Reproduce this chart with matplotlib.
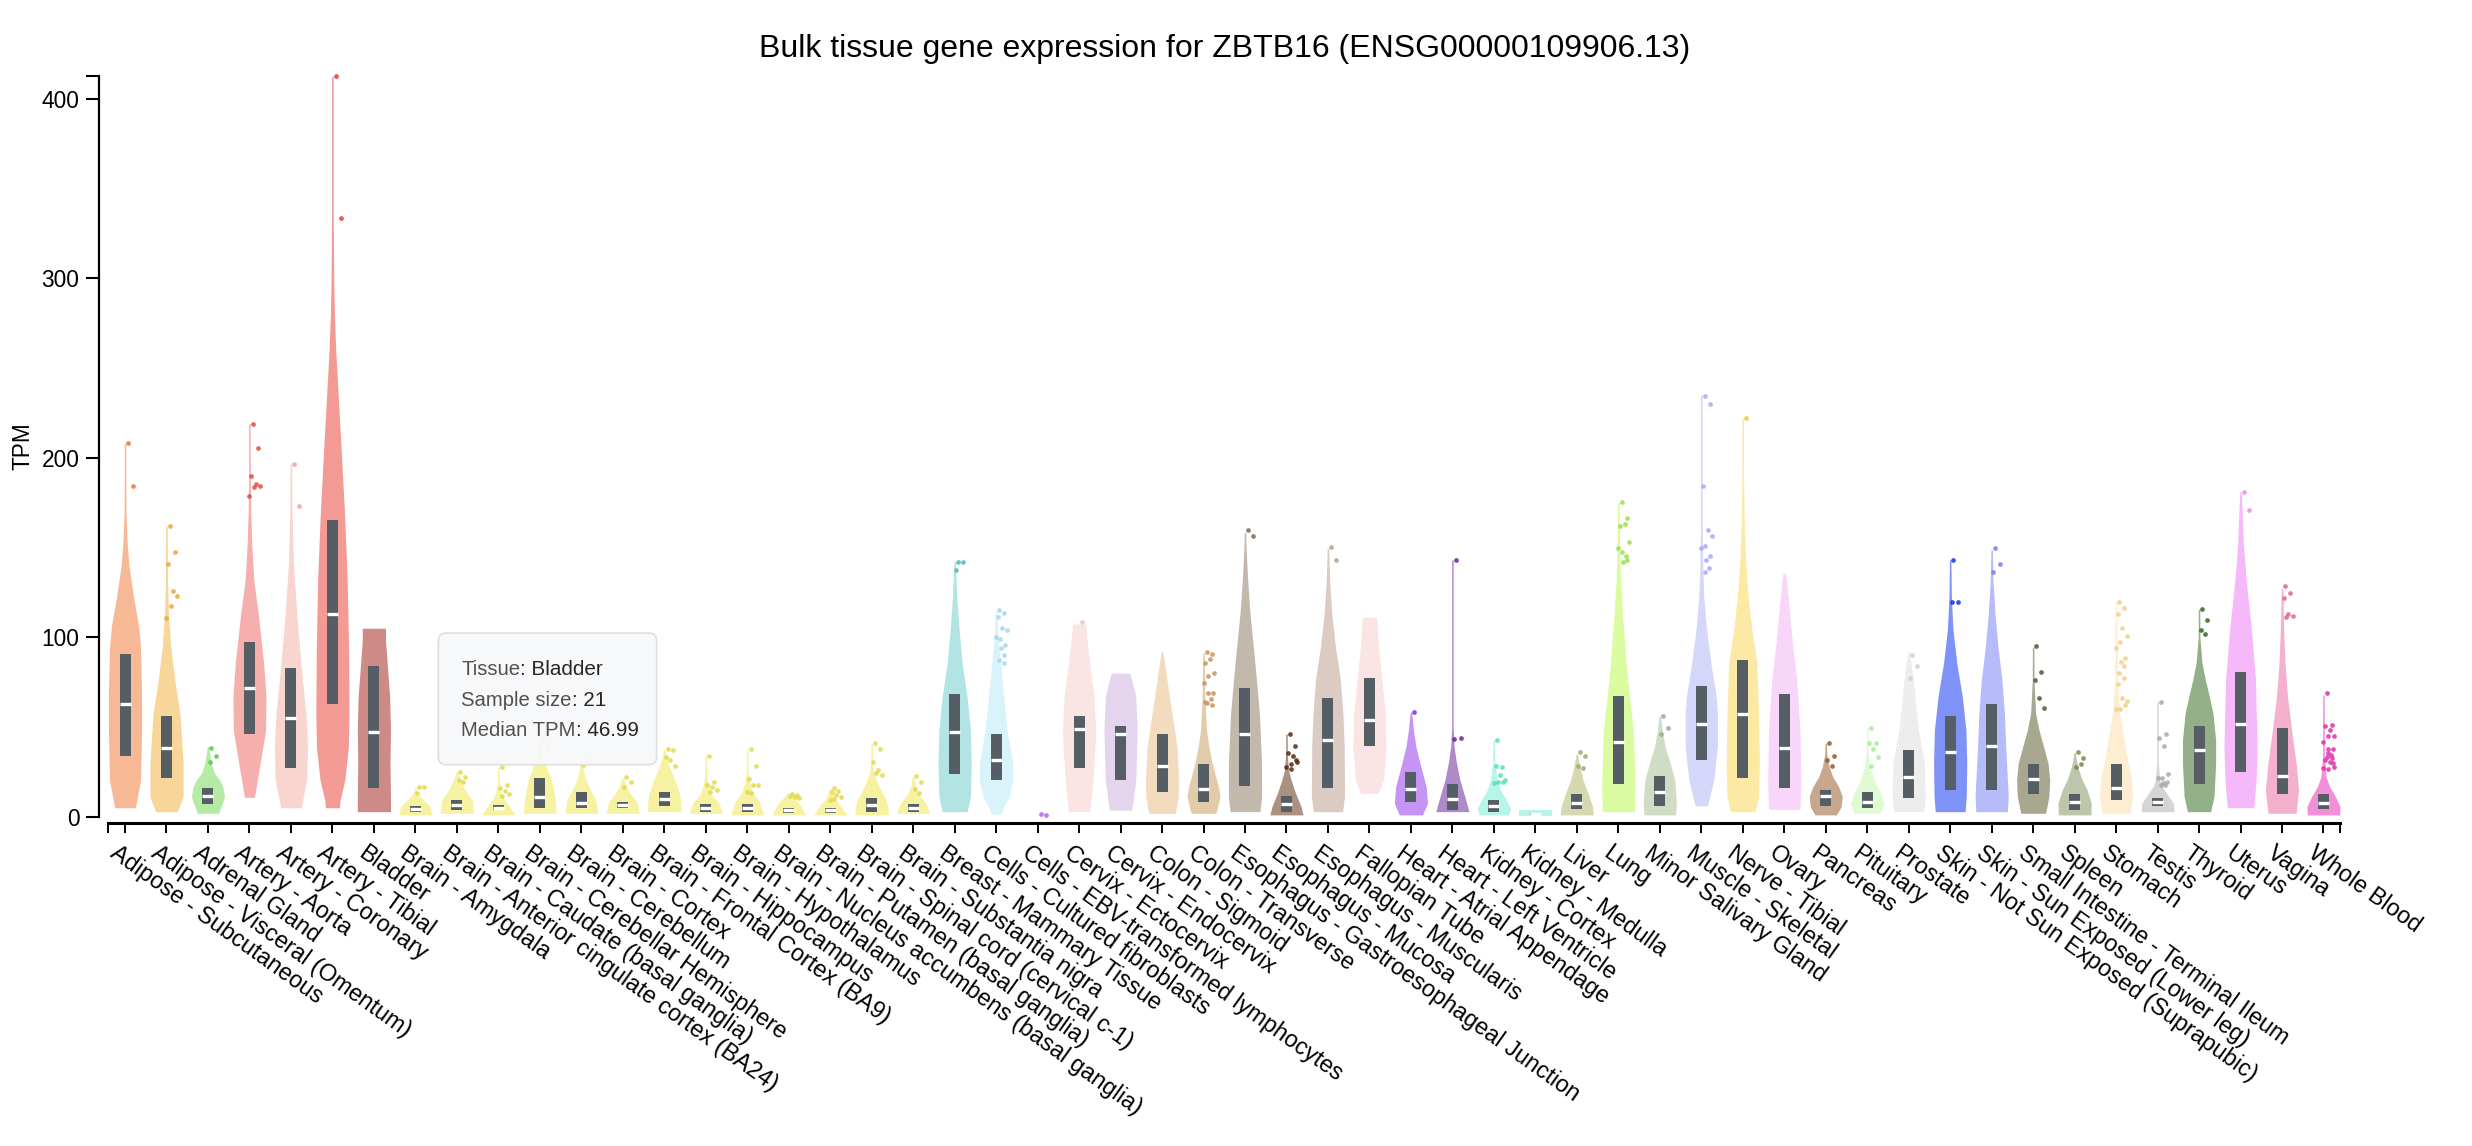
import matplotlib
matplotlib.use("Agg")
import matplotlib.pyplot as plt
import numpy as np
from matplotlib.patches import FancyBboxPatch
from matplotlib.transforms import ScaledTranslation, IdentityTransform

plt.rcParams['font.family'] = ['Liberation Sans', 'DejaVu Sans']

# ---------------- data ----------------
tissues = [
    "Adipose - Subcutaneous", "Adipose - Visceral (Omentum)", "Adrenal Gland",
    "Artery - Aorta", "Artery - Coronary", "Artery - Tibial", "Bladder",
    "Brain - Amygdala", "Brain - Anterior cingulate cortex (BA24)",
    "Brain - Caudate (basal ganglia)", "Brain - Cerebellar Hemisphere",
    "Brain - Cerebellum", "Brain - Cortex", "Brain - Frontal Cortex (BA9)",
    "Brain - Hippocampus", "Brain - Hypothalamus",
    "Brain - Nucleus accumbens (basal ganglia)", "Brain - Putamen (basal ganglia)",
    "Brain - Spinal cord (cervical c-1)", "Brain - Substantia nigra",
    "Breast - Mammary Tissue", "Cells - Cultured fibroblasts",
    "Cells - EBV-transformed lymphocytes", "Cervix - Ectocervix",
    "Cervix - Endocervix", "Colon - Sigmoid", "Colon - Transverse",
    "Esophagus - Gastroesophageal Junction", "Esophagus - Mucosa",
    "Esophagus - Muscularis", "Fallopian Tube", "Heart - Atrial Appendage",
    "Heart - Left Ventricle", "Kidney - Cortex", "Kidney - Medulla", "Liver",
    "Lung", "Minor Salivary Gland", "Muscle - Skeletal", "Nerve - Tibial",
    "Ovary", "Pancreas", "Pituitary", "Prostate",
    "Skin - Not Sun Exposed (Suprapubic)", "Skin - Sun Exposed (Lower leg)",
    "Small Intestine - Terminal Ileum", "Spleen", "Stomach", "Testis",
    "Thyroid", "Uterus", "Vagina", "Whole Blood",
]

violin_colors = [
    '#F6B895', '#F8D598', '#B6EBA6', '#F5B0AE', '#F8D5CE', '#F49A94', '#CD8A86',
    '#F6F2A2', '#F6F2A2', '#F6F2A2', '#F6F2A2', '#F6F2A2', '#F6F2A2', '#F6F2A2',
    '#F6F2A2', '#F6F2A2', '#F6F2A2', '#F6F2A2', '#F6F2A2', '#F6F2A2',
    '#B2E4E3', '#D9F3FB', '#D8A3F2', '#FAE4E4', '#E4D4EE', '#F2DCBD', '#E2CBA9',
    '#C2B8AB', '#A99282', '#DCCBC3', '#FAE4E4', '#C694F5', '#AE8BC8', '#B6F5E9',
    '#B6F5E9', '#D6D8B2', '#DAFB9F', '#D1DCC5', '#D4D6FA', '#FCE9A4', '#F8D6FA',
    '#C8A78F', '#DEFBD2', '#EDEDED', '#7F92F8', '#B6BBFA', '#A8A891', '#BDC5AB',
    '#FDEED2', '#D5D5D5', '#94B088', '#F5B9F9', '#F4B1CD', '#F28FD8',
]

point_colors = [
    '#E8743B', '#EEA534', '#5BC94A', '#E04A4A', '#EDA39C', '#E23B33', '#B05550',
    '#E2DA4E', '#E2DA4E', '#E2DA4E', '#E2DA4E', '#E2DA4E', '#E2DA4E', '#E2DA4E',
    '#E2DA4E', '#E2DA4E', '#E2DA4E', '#E2DA4E', '#E2DA4E', '#E2DA4E',
    '#4FBDBB', '#A8D7EA', '#B266E6', '#F0C4C4', '#C8A8DC', '#E2B880', '#C8965A',
    '#806A55', '#552A10', '#B89C90', '#F0C4C4', '#7A2BE0', '#6A1E9E', '#5BDDBE',
    '#5BDDBE', '#A6A86A', '#9BDE4A', '#9BAA88', '#A8AAF0', '#F8C638', '#EE9CEE',
    '#995528', '#A8EC98', '#D0D0D0', '#1133EE', '#7780F0', '#555535', '#778855',
    '#EED090', '#AAAAAA', '#336625', '#EE88EE', '#DD6699', '#DD33AA',
]

# violin outline: (TPM, relative width) knots, bottom to top
violin_profiles = [
    [(5,0.62),(20,0.93),(48,1.0),(67,1.0),(95,0.93),(106,0.82),(123,0.5),(141,0.22),(154,0.12),(169,0.06),(188,0.03),(208,0.02)],
    [(2.8,0.65),(11,1.0),(30,1.0),(48,0.88),(58,0.8),(76,0.5),(95,0.25),(113,0.12),(132,0.06),(162,0.02)],
    [(1.9,0.65),(11,1.0),(16.7,0.9),(20.5,0.7),(24.2,0.4),(29.7,0.2),(35,0.1),(39,0.04)],
    [(10.8,0.3),(30,0.65),(48,0.97),(67,1.0),(86,0.85),(113,0.53),(132,0.26),(150,0.15),(169,0.08),(188,0.05),(219,0.02)],
    [(5,0.62),(20.5,0.95),(39,1.0),(57.6,0.9),(85.5,0.6),(113,0.35),(141,0.15),(169,0.07),(196.5,0.02)],
    [(5,0.42),(9.3,0.46),(20.5,0.75),(39,0.96),(57.6,1.0),(94.7,0.97),(132,0.89),(169,0.73),(206,0.52),(243,0.3),(260,0.2),(280,0.12),(300,0.08),(333,0.05),(412.5,0.03)],
    [(2.8,1.0),(11,1.0),(30,0.97),(48,1.0),(67,0.95),(85.5,0.8),(98.5,0.7),(105,0.7)],
    [(1.0,1.0),(5.6,0.9),(9.3,0.5),(12.1,0.2),(15,0.05),(16.5,0.02)],
    [(1.9,1.0),(9.3,0.92),(14.9,0.5),(20.5,0.2),(25,0.03)],
    [(1.0,1.0),(6.5,0.6),(10.2,0.3),(14.9,0.12),(20,0.05),(28,0.02)],
    [(1.9,1.0),(11.2,0.9),(20.5,0.7),(29.7,0.3),(36,0.1),(44,0.02)],
    [(1.9,1.0),(9.3,0.87),(14.9,0.55),(20.5,0.27),(26,0.12),(31.6,0.06),(34,0.03)],
    [(1.9,1.0),(8.4,0.85),(13,0.45),(17.7,0.17),(21.4,0.04)],
    [(2.8,1.0),(7.5,1.0),(13,0.92),(20.5,0.63),(27.9,0.3),(33.5,0.12),(37.5,0.03)],
    [(1.9,1.0),(7.5,0.8),(12.1,0.36),(16.7,0.18),(22,0.06),(34.2,0.02)],
    [(1.0,1.0),(8.4,0.72),(13,0.35),(18.6,0.15),(25,0.05),(37.5,0.02)],
    [(1.0,1.0),(6.5,0.7),(10.2,0.35),(13,0.1)],
    [(1.0,1.0),(6.5,0.6),(10.2,0.25),(15.8,0.03)],
    [(1.0,1.0),(3.7,1.0),(9.3,0.88),(14.9,0.55),(20.5,0.27),(26,0.1),(32,0.04),(40.5,0.02)],
    [(1.9,1.0),(7.5,0.77),(12.1,0.37),(16.7,0.15),(22.5,0.03)],
    [(2.8,0.75),(11.2,0.95),(29.7,1.0),(48.3,0.95),(66.9,0.75),(85.5,0.45),(104,0.27),(122.6,0.13),(142,0.03)],
    [(1.5,0.3),(3.7,0.36),(11.2,0.8),(20.5,1.0),(29.7,1.0),(48.3,0.66),(66.9,0.46),(85.5,0.26),(100,0.12),(114,0.04)],
    [(0.7,1.0),(1.2,1.0)],
    [(2.8,0.64),(20.5,0.84),(39,0.96),(48.3,1.0),(66.9,0.9),(85.5,0.64),(98.5,0.48),(107.4,0.4)],
    [(3.7,0.68),(20.5,0.92),(48.3,1.0),(66.9,0.92),(79.9,0.57)],
    [(1.9,0.8),(11.2,0.98),(20.5,1.0),(39,0.9),(57.6,0.6),(76.2,0.3),(85.5,0.16),(92,0.05)],
    [(1.9,0.75),(11.2,1.0),(16.7,0.9),(29.7,0.52),(39,0.32),(48.3,0.18),(66.9,0.08),(91.4,0.03)],
    [(2.8,0.9),(11.2,1.0),(29.7,1.0),(57.6,0.87),(85.5,0.6),(113.3,0.3),(131.9,0.16),(150.5,0.06),(158.3,0.03)],
    [(1.0,1.0),(5.6,0.88),(13,0.55),(20.5,0.28),(26,0.12),(35,0.05),(46.1,0.02)],
    [(2.8,0.88),(11.2,1.0),(39,0.98),(57.6,0.9),(76.2,0.75),(94.7,0.45),(113.3,0.23),(131.9,0.1),(149.5,0.03)],
    [(13,0.53),(20.5,0.85),(39,1.0),(57.6,0.95),(76.2,0.75),(94.7,0.55),(111.1,0.43)],
    [(1.0,0.7),(7.5,1.0),(16.7,0.92),(29.7,0.55),(39,0.3),(48.3,0.15),(58.2,0.03)],
    [(2.8,1.0),(11.2,0.75),(20.5,0.45),(29.7,0.25),(39,0.1),(50,0.03),(143,0.02)],
    [(1.0,0.9),(4.7,1.0),(9.3,0.75),(14.9,0.4),(20.5,0.2),(29.7,0.07),(42.7,0.02)],
    [(0.4,1.0),(3.8,1.0)],
    [(1.0,1.0),(5.6,0.95),(13,0.68),(20.5,0.37),(27.9,0.18),(34.9,0.04)],
    [(2.8,0.98),(20.5,1.0),(48.3,0.9),(66.9,0.67),(85.5,0.47),(113.3,0.25),(131.9,0.13),(150.5,0.08),(175,0.03)],
    [(1.0,0.95),(7.5,1.0),(20.5,0.9),(29.7,0.63),(39,0.32),(48.3,0.14),(56.1,0.03)],
    [(6.0,0.37),(20.5,0.75),(39,0.97),(57.6,0.97),(66.9,0.9),(85.5,0.58),(104,0.32),(122.6,0.15),(135.6,0.1),(160,0.04),(235,0.02)],
    [(2.8,0.75),(11.2,0.95),(29.7,1.0),(57.6,0.95),(85.5,0.85),(104,0.55),(122.6,0.33),(141.2,0.18),(159.7,0.1),(187.6,0.05),(222,0.02)],
    [(4.1,0.95),(20.5,1.0),(48.3,0.95),(76.2,0.75),(94.7,0.52),(113.3,0.33),(128.2,0.17),(135.6,0.08)],
    [(1.0,0.65),(5.6,0.93),(11.2,1.0),(16.7,0.78),(22.3,0.42),(27.9,0.2),(35,0.06),(40.9,0.02)],
    [(1.9,0.8),(7.5,1.0),(13,0.8),(20.5,0.4),(27.9,0.15),(38,0.05),(49.6,0.02)],
    [(2.8,0.9),(10,1.0),(30,0.95),(48,0.6),(60,0.45),(75,0.3),(85,0.15),(92,0.04)],
    [(2.8,0.9),(11.2,0.97),(29.7,1.0),(48.3,0.95),(66.9,0.73),(85.5,0.4),(104,0.17),(122.6,0.07),(143,0.02)],
    [(2.8,0.95),(11.2,1.0),(39,0.85),(57.6,0.77),(76.2,0.62),(94.7,0.38),(113.3,0.2),(131.9,0.08),(148.6,0.02)],
    [(1.9,0.75),(11.2,0.95),(20.5,1.0),(29.7,0.9),(39,0.63),(48.3,0.35),(57.6,0.15),(76.2,0.05),(94.4,0.02)],
    [(1.0,0.98),(7.5,1.0),(14.9,0.75),(20.5,0.45),(26,0.25),(31.6,0.1),(35.7,0.03)],
    [(1.9,0.85),(11.2,1.0),(20.5,0.93),(39,0.55),(57.6,0.22),(76.2,0.08),(119.8,0.02)],
    [(2.8,1.0),(7.5,0.95),(13,0.55),(16.7,0.28),(20.5,0.12),(30,0.04),(64.1,0.02)],
    [(2.8,0.7),(11.2,0.9),(29.7,1.0),(42.7,1.0),(57.6,0.84),(66.9,0.62),(76.2,0.38),(85.5,0.18),(100,0.05),(115.5,0.02)],
    [(5.0,0.8),(20.5,0.94),(39,1.0),(76.2,0.9),(104,0.66),(131.9,0.34),(150.5,0.18),(169,0.1),(181.1,0.03)],
    [(1.9,0.85),(14.9,1.0),(29.7,0.85),(48.3,0.58),(66.9,0.33),(85.5,0.18),(104,0.1),(127.2,0.03)],
    [(1.0,0.98),(5.6,1.0),(11.2,0.72),(16.7,0.37),(22.3,0.15),(35,0.05),(67.8,0.02)],
]

q1 = [34.0, 21.8, 7.1, 46.1, 27.3, 63.0, 16.2, 2.6, 3.7, 3.7, 5.0, 5.0, 5.0, 6.2,
      2.8, 2.8, 1.9, 1.9, 2.8, 2.8, 24.0, 20.5, 1.0, 27.3, 20.5, 14.0, 8.4, 17.3,
      2.8, 16.2, 39.6, 8.4, 3.7, 2.8, 1.0, 4.1, 18.2, 6.0, 31.6, 21.8, 16.2, 6.0,
      5.0, 10.2, 14.9, 14.9, 12.7, 3.7, 9.3, 6.0, 18.2, 25.0, 12.7, 4.1]
median = [63.0, 38.5, 11.6, 71.9, 55.2, 113.1, 46.99, 4.3, 6.5, 5.0, 11.2, 7.5, 6.7,
          10.1, 5.0, 5.0, 3.8, 3.8, 6.5, 5.0, 47.4, 31.6, 1.0, 48.7, 46.1, 28.4,
          15.3, 46.3, 7.1, 42.9, 54.1, 15.3, 9.7, 6.0, 1.6, 7.5, 41.8, 14.0, 51.8,
          57.4, 38.5, 11.6, 8.4, 22.3, 36.1, 39.4, 20.8, 8.4, 16.0, 8.4, 37.2, 51.8,
          22.7, 7.5]
q3 = [90.6, 56.1, 16.0, 97.3, 82.9, 165.3, 84.0, 6.0, 9.3, 6.5, 21.4, 13.6, 8.4, 13.6,
      7.1, 7.1, 5.0, 5.0, 10.4, 7.1, 68.4, 46.1, 1.0, 56.1, 50.5, 46.1, 29.4, 71.7,
      11.5, 66.2, 77.3, 25.0, 18.2, 9.3, 2.0, 12.7, 67.3, 22.7, 72.8, 87.3, 68.4,
      14.9, 13.6, 37.2, 56.1, 62.8, 29.4, 12.7, 29.4, 10.6, 50.5, 80.6, 49.6, 12.7]

outliers = [
    [208, 184.2],
    [162.1, 147.5, 141.0, 125.6, 123.0, 117.4, 110.7],
    [38.5, 33.8, 30.7],
    [219.0, 205.6, 190.0, 185.5, 184.4, 183.5, 178.9],
    [196.5, 173.3],
    [412.5, 333.5],
    [],
    [16.4, 16.4, 13.0],
    [25.1, 22.3, 20.5, 19.5],
    [27.9, 17.5, 16.2, 14.5, 12.8, 11.5],
    [42.0, 38.0],
    [33.5, 31.0, 29.0],
    [22.3, 19.5, 16.7],
    [37.5, 37.2, 33.1, 31.6, 28.4],
    [34.0, 19.5, 17.8, 16.5, 15.0, 14.0],
    [37.5, 28.4, 21.0, 17.7, 17.5, 13.0, 14.0],
    [12.5, 12.0, 11.5, 11.0, 10.5],
    [15.8, 14.5, 13.5, 12.0, 11.0, 10.0, 9.5],
    [40.9, 37.5, 30.7, 26.0, 23.2, 24.5],
    [22.9, 19.5, 15.3, 13.0],
    [142.1, 142.1, 137.4],
    [115.2, 113.3, 111.5, 104.9, 104.0, 98.8, 100.3, 95.7, 93.8, 90.1, 87.3, 85.8],
    [1.3, 1.2],
    [108.5],
    [],
    [],
    [92.0, 90.7, 85.4, 87.7, 80.3, 78.4, 74.3, 68.7, 68.7, 65.4, 63.5, 62.2, 64.1],
    [159.7, 156.6],
    [46.1, 39.6, 35.3, 33.8, 30.7, 29.4, 27.5, 31.6, 26.4],
    [150.5, 143.0],
    [],
    [58.5],
    [143.0, 43.7, 43.5],
    [42.7, 27.9, 28.3, 23.2, 20.5, 19.5, 18.6, 19.5],
    [],
    [36.2, 33.8, 28.3, 27.3],
    [175.5, 166.6, 162.2, 163.1, 152.9, 147.3, 149.9, 143.0, 142.1, 145.4],
    [56.1, 49.6, 46.1],
    [234.6, 230.0, 184.2, 159.7, 156.6, 151.0, 149.9, 145.4, 143.0, 138.7, 136.5],
    [222.3],
    [],
    [40.9, 33.8, 31.6, 28.3],
    [49.6, 40.9, 40.9, 37.5, 33.4, 28.4],
    [90.1, 83.9, 77.5],
    [143.0, 119.8, 119.8],
    [149.9, 141.0, 136.5],
    [95.3, 80.6, 76.2, 66.3, 60.8],
    [36.2, 32.9, 27.9, 29.4],
    [119.8, 116.1, 112.9, 105.3, 100.7, 97.2, 94.2, 88.6, 86.4, 84.0, 80.3, 77.5,
     73.8, 66.3, 64.5, 59.8, 59.8, 62.2],
    [64.1, 46.1, 44.1, 39.4, 23.6, 21.8, 21.4, 19.5, 18.6, 17.7, 17.7],
    [115.5, 109.6, 104.0, 101.8],
    [181.1, 170.9],
    [128.7, 124.5, 121.7, 113.0, 112.0, 111.1],
    [68.7, 51.1, 50.7, 48.3, 45.0, 45.0, 41.8, 37.5, 37.7, 34.4, 33.4, 32.9, 31.6,
     30.7, 27.9, 26.4, 27.0, 29.7, 35.7],
]

title = "Bulk tissue gene expression for ZBTB16 (ENSG00000109906.13)"
y_ticks = [0, 100, 200, 300, 400]
tooltip_keys = ["Tissue", "Sample size", "Median TPM"]
tooltip_values = ["Bladder", "21", "46.99"]

# ---------------- layout ----------------
W, H, DPI = 2472, 1146, 100
fig = plt.figure(figsize=(W / DPI, H / DPI), dpi=DPI)
ax_left, ax_right, ax_y0, ax_ytop = 108.3, 2340.5, 816.7, 76.3
ax = fig.add_axes([ax_left / W, (H - ax_y0) / H, (ax_right - ax_left) / W, (ax_y0 - ax_ytop) / H])

n = len(tissues)
xlo, xhi = -0.403, n - 1 + 0.41
ymax = 412.5
ax.set_xlim(xlo, xhi)
ax.set_ylim(0, ymax)

VW = 0.8      # violin max width (band units)
BW = 0.265    # box width
jitter = [0.08, 0.2, 0.04, 0.15, 0.26, 0.1, 0.0, 0.22, 0.12, 0.18]

for i in range(n):
    prof = violin_profiles[i]
    ys = np.array([p[0] for p in prof])
    ws = np.maximum(np.array([p[1] for p in prof]), 0.045) * VW / 2
    ax.fill_betweenx(ys, i - ws, i + ws, color=violin_colors[i], lw=0, zorder=2, clip_on=False)
    if q3[i] > q1[i]:
        ax.bar(i, q3[i] - q1[i], bottom=q1[i], width=BW, color='#555E65', lw=0, zorder=3)
        ax.hlines(median[i], i - BW / 2, i + BW / 2, colors='white', lw=2.4,
                  zorder=4, capstyle='butt')
    pts = outliers[i]
    if pts:
        xs = [i + jitter[k % len(jitter)] for k in range(len(pts))]
        ax.plot(xs, pts, 'o', ms=3.4, color=point_colors[i], alpha=0.85,
                mec='none', zorder=5, clip_on=False)

# spines
for s in ['top', 'right']:
    ax.spines[s].set_visible(False)
ax.spines['left'].set_position(('outward', 7.0))
ax.spines['bottom'].set_position(('outward', 4.7))
ax.spines['left'].set_linewidth(1.6)
ax.spines['bottom'].set_linewidth(2.2)

ax.set_yticks(y_ticks)
ax.set_yticklabels([str(v) for v in y_ticks])
ax.set_yticks([ymax], minor=True)
ax.tick_params(axis='y', which='major', length=9.6, width=1.5, pad=4.3, labelsize=16.4)
ax.tick_params(axis='y', which='minor', length=9.6, width=1.5)

ax.set_xticks(range(n))
ax.set_xticklabels(tissues, rotation=-35.5, ha='left', va='top', rotation_mode='anchor')
ax.set_xticks([xlo, xhi], minor=True)
ax.tick_params(axis='x', which='major', length=7.3, width=1.4, pad=5.5, labelsize=16.8)
ax.tick_params(axis='x', which='minor', length=7.3, width=1.4)
for lab in ax.get_xticklabels():
    lab.set_transform(lab.get_transform() + ScaledTranslation(-6 / DPI, 0, fig.dpi_scale_trans))

fig.text(1224.5 / W, 1 - 56.6 / H, title, ha='center', va='baseline', fontsize=23)
fig.text(23.5 / W, 1 - 446 / H, 'TPM', rotation=90, ha='center', va='center', fontsize=16.3)

# tooltip
tx0, ty0, tx1, ty1 = 438.3, 633.0, 656.7, 764.7
box = FancyBboxPatch((tx0, H - ty1), tx1 - tx0, ty1 - ty0,
                     boxstyle='round,pad=0,rounding_size=8', transform=IdentityTransform(),
                     fc='#F7F8FA', ec='#E0E0E0', lw=1.3, alpha=0.93, zorder=20)
fig.add_artist(box)
renderer = fig.canvas.get_renderer()
baselines = [674.7, 706.3, 736.3]
for key, val, by in zip(tooltip_keys, tooltip_values, baselines):
    t = fig.text(461, H - by, key, transform=IdentityTransform(), fontsize=14.6,
                 color='#505050', va='baseline', ha='left', zorder=21)
    bb = t.get_window_extent(renderer)
    fig.text(bb.x1 + 0.5, H - by, ": " + val, transform=IdentityTransform(), fontsize=14.9,
             color='#262626', va='baseline', ha='left', zorder=21)

fig.savefig('out.png', dpi=DPI)
